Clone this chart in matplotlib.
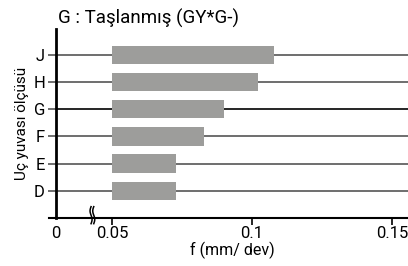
import numpy as np
import matplotlib
matplotlib.use("Agg")
import matplotlib.pyplot as plt
from matplotlib.transforms import blended_transform_factory

plt.rcParams['font.family'] = ['Roboto', 'DejaVu Sans']

categories = ['D', 'E', 'F', 'G', 'H', 'J']
bar_start = [0.05, 0.05, 0.05, 0.05, 0.05, 0.05]
bar_end = [0.073, 0.073, 0.083, 0.090, 0.102, 0.108]
xticks = [0, 0.05, 0.1, 0.15]
xtick_labels = ['0', '0.05', '0.1', '0.15']
title = 'G : Taşlanmış (GY*G-)'
xlabel = 'f (mm/ dev)'
ylabel = 'Uç yuvası ölçüsü'

BREAK = 0.05
SQ = 0.4

def fwd(x):
    x = np.asarray(x, dtype=float)
    return np.where(x < BREAK, x * SQ, BREAK * SQ + (x - BREAK))

def inv(u):
    u = np.asarray(u, dtype=float)
    return np.where(u < BREAK * SQ, u / SQ, (u - BREAK * SQ) + BREAK)

fig = plt.figure(figsize=(4.08, 2.66), dpi=100)
ax = fig.add_axes([56/408, 1 - 218/266, 1 - 56/408, (218 - 29)/266])
ax.set_xscale('function', functions=(fwd, inv))

y = np.arange(len(categories))
for yi, cat in zip(y, categories):
    lc = 'black' if cat == 'G' else '#555555'
    ax.plot([0, 1], [yi, yi], transform=blended_transform_factory(ax.transAxes, ax.transData),
            color=lc, lw=1.2, zorder=1, clip_on=False)

widths = [e - s for s, e in zip(bar_start, bar_end)]
ax.barh(y, widths, left=bar_start, height=0.68, color='#9d9d9b', zorder=2)

ax.set_xlim(0, 0.1557)
ax.set_ylim(-1, 5.95)
ax.set_yticks(y)
ax.set_yticklabels(categories, fontsize=12)
ax.set_xticks(xticks)
ax.set_xticklabels(xtick_labels, fontsize=12)
ax.tick_params(axis='y', length=6, width=1.2, color='#555555', pad=2)
ax.tick_params(axis='x', length=5, width=1.2, color='black', pad=1)
ax.xaxis.get_major_ticks()[0].tick1line.set_visible(False)

for s in ['top', 'right']:
    ax.spines[s].set_visible(False)
ax.spines['left'].set_linewidth(2)
ax.spines['bottom'].set_visible(False)
ax.plot([-0.02, 1], [0, 0], transform=ax.transAxes, color='black', lw=1.5, clip_on=False, zorder=3)

# axis break marker
bx = 0.0325
tb = blended_transform_factory(ax.transData, ax.transAxes)
tt = np.linspace(0, 1, 30)
for dx in (-0.0012, 0.0012):
    xs = bx + dx + 0.0009 * np.sin(tt * 2 * np.pi)
    ys = -0.03 + tt * 0.09
    ax.plot(xs, ys, transform=tb, color='black', lw=1.1, clip_on=False, zorder=4)

ax.set_xlabel(xlabel, fontsize=11.5, labelpad=0.5)
ax.set_ylabel(ylabel, fontsize=11, labelpad=3)
fig.text(58/408, 1 - 18/266, title, fontsize=13.5, va='center', ha='left')

fig.savefig('out.png', dpi=100)
